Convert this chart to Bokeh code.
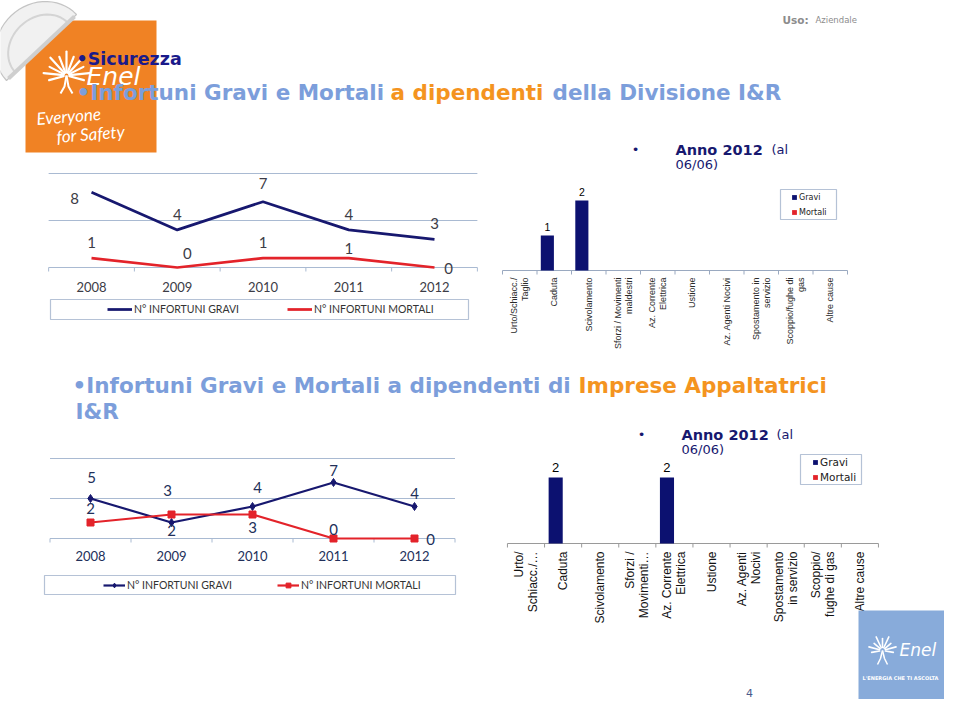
import math
from bokeh.plotting import figure
from bokeh.models import Range1d, ColumnDataSource, Legend, LegendItem
from bokeh.core.properties import value
from bokeh.transform import dodge
from bokeh.embed import file_html
from bokeh.resources import INLINE

# ---------------- data ----------------
years = ["2008", "2009", "2010", "2011", "2012"]
grid_ticks = [0, 5, 10]

div_gravi = [8, 4, 7, 4, 3]
div_mortali = [1, 0, 1, 1, 0]
app_gravi = [5, 2, 4, 7, 4]
app_mortali = [2, 3, 3, 0, 0]

div_causes = ["Urto/Schiacc./\nTaglio", "Caduta", "Scivolamento",
              "Sforzi / Movimenti\nmaldestri", "Az. Corrente\nElettrica", "Ustione",
              "Az. Agenti Nocivi", "Spostamento in\nservizio", "Scoppio/fughe di\ngas",
              "Altre cause"]
div_2012_gravi = [0, 1, 2, 0, 0, 0, 0, 0, 0, 0]
div_2012_mortali = [0, 0, 0, 0, 0, 0, 0, 0, 0, 0]

app_causes = ["Urto/\nSchiacc./…", "Caduta", "Scivolamento", "Sforzi /\nMovimenti…",
              "Az. Corrente\nElettrica", "Ustione", "Az. Agenti\nNocivi",
              "Spostamento\nin servizio", "Scoppio/\nfughe di gas", "Altre cause"]
app_2012_gravi = [0, 2, 0, 0, 2, 0, 0, 0, 0, 0]
app_2012_mortali = [0, 0, 0, 0, 0, 0, 0, 0, 0, 0]

# ---------------- styles ----------------
NAVY = "#17186f"
RED = "#e3232a"
BAR_NAVY = "#0c1170"
LBLUE = "#7c9edb"
ORANGE = "#f4941f"
GRID = "#a9bad2"
BOXC = "#b5c2d6"
TITLE_NAVY = "#1a1a8a"

X0, X1, Y0, Y1 = 0, 944, 699, 0   # slide pixel window shown by the page frame

p = figure(width=944, height=699, x_range=Range1d(X0, X1), y_range=Range1d(Y0, Y1),
           output_backend="svg", toolbar_location=None, min_border=0,
           x_axis_location=None, y_axis_location=None, outline_line_color=None,
           background_fill_color="white", border_fill_color="white")
p.grid.grid_line_color = None


def rng(v0, p0, v1, p1, pa, pb):
    s = (p1 - p0) / (v1 - v0)
    return Range1d(start=v0 + (pa - p0) / s, end=v0 + (pb - p0) / s)


def write(x, y, s, size, color, font="DejaVu Sans", style="normal", align="left", angle=0.0):
    p.text(x=[x], y=[y], text=[s], text_font=value(font), text_font_size=value(f"{size}px"),
           text_font_style=style, text_color=color, text_align=align,
           text_baseline="middle", angle=angle)


def rays(cx, cy, lengths, a0, a1, width):
    n = len(lengths)
    xs0, ys0, xs1, ys1 = [], [], [], []
    for i, L in enumerate(lengths):
        a = math.radians(a0 + (a1 - a0) * i / (n - 1))
        xs0.append(cx + 3 * math.cos(a)); ys0.append(cy - 3 * math.sin(a))
        xs1.append(cx + L * math.cos(a)); ys1.append(cy - L * math.sin(a))
    p.segment(x0=xs0, y0=ys0, x1=xs1, y1=ys1, line_color="white", line_width=width, line_cap="round")


# ---------------- top-left safety logo ----------------
p.quad(left=[25], right=[156], top=[20], bottom=[152], fill_color="#f08224", line_color=None)
# helmet
ax, ay, bx, by = 6, 80, 76, 14
mx, my = (ax + bx) / 2, (ay + by) / 2
L = math.hypot(bx - ax, by - ay) / 2
ux, uy = (bx - ax) / (2 * L), (by - ay) / (2 * L)
vx, vy = uy, -ux
if vx > 0:
    vx, vy = -vx, -vy
ts = [k * math.pi / 30 for k in range(31)]
hx = [mx + L * math.cos(t) * ux + 44 * math.sin(t) * vx for t in ts]
hy = [my + L * math.cos(t) * uy + 44 * math.sin(t) * vy for t in ts]
p.patch(hx, hy, fill_color="#f1f1f1", line_color="#c4c4c4", line_width=1.2)
rx = [mx + 0.75 * L * math.cos(t) * ux + 30 * math.sin(t) * vx for t in ts]
ry = [my + 0.75 * L * math.cos(t) * uy + 30 * math.sin(t) * vy for t in ts]
p.line(rx, ry, line_color="#d4d4d4", line_width=2)
p.line([ax + 2, bx - 2], [ay - 2, by + 2], line_color="#cfcfcf", line_width=4)
rays(66, 75, [18, 23, 19, 24, 20, 24, 20, 24, 19, 23, 18], -15, 195, 2.2)
p.line([66, 64, 60], [75, 86, 93], line_color="white", line_width=2)
p.line([66, 68, 72], [75, 86, 93], line_color="white", line_width=2)
write(86, 76, "Enel", 25, "white", style="italic")
write(36, 118, "Everyone", 17, "white", font="Lato", style="italic", angle=0.08)
write(56, 136, "for Safety", 17, "white", font="Lato", style="italic", angle=0.08)

# ---------------- header texts ----------------
write(782, 19, "Uso:", 10.5, "#8c8c8c", style="bold")
write(815, 19, "Aziendale", 8.5, "#8c8c8c")
write(76, 58, "•Sicurezza", 17.5, TITLE_NAVY, style="bold")
write(76, 92, "•Infortuni Gravi e Mortali", 21.5, LBLUE, style="bold")
write(390, 92, "a dipendenti", 21.5, ORANGE, style="bold")
write(552, 92, "della Divisione I&R", 21.5, LBLUE, style="bold")

write(72, 385, "•Infortuni Gravi e Mortali a dipendenti di", 21.5, LBLUE, style="bold")
write(578, 385, "Imprese Appaltatrici", 21.5, ORANGE, style="bold")
write(75, 411, "I&R", 21.5, LBLUE, style="bold")

for bx0, by0, dx_al in [(635, 149, 771), (641, 434, 776)]:
    write(bx0, by0, "•", 13, NAVY, align="center")
    write(bx0 + 40, by0, "Anno 2012", 14.5, NAVY, style="bold")
    write(dx_al, by0, "(al", 13, NAVY)
    write(bx0 + 40, by0 + 15, "06/06)", 13, NAVY)


# ---------------- line charts ----------------
def line_chart(key, xmap, ymap, gravi, mortali, g_dx, g_dy, m_dx, m_dy, year_dy,
               lw, markers, txt_color, box, leg_glyph_x, leg_glyph_w, leg_label_w, leg_cy):
    xr, yr = key + "x", key + "y"
    p.extra_x_ranges[xr] = rng(*xmap, X0, X1)
    p.extra_y_ranges[yr] = rng(*ymap, Y0, Y1)
    kw = dict(x_range_name=xr, y_range_name=yr)
    upp = abs((ymap[2] - ymap[0]) / (ymap[3] - ymap[1]))
    n = len(years)
    idx = list(range(n))
    p.segment(x0=-0.5, x1=n - 0.5, y0=grid_ticks, y1=grid_ticks, line_color=GRID, line_width=1.2, **kw)
    bounds = [i - 0.5 for i in range(n + 1)]
    p.segment(x0=bounds, x1=bounds, y0=0, y1=-4 * upp, line_color=GRID, line_width=1, **kw)
    src = ColumnDataSource(dict(x=idx, g=gravi, m=mortali, year=years,
                                gt=[str(v) for v in gravi], mt=[str(v) for v in mortali],
                                gdx=g_dx, gdy=g_dy, mdx=m_dx, mdy=m_dy))
    rg = [p.line("x", "g", source=src, line_color=NAVY, line_width=lw, **kw)]
    rm = [p.line("x", "m", source=src, line_color=RED, line_width=lw, **kw)]
    if markers:
        rg.append(p.scatter("x", "g", source=src, marker="diamond", size=8, fill_color=NAVY, line_color=NAVY, **kw))
        rm.append(p.scatter("x", "m", source=src, marker="square", size=7, fill_color=RED, line_color=RED, **kw))
    common = dict(text_font=value("Lato"), text_color=txt_color, text_align="center", text_baseline="middle")
    p.text(x="x", y="g", text="gt", source=src, x_offset="gdx", y_offset="gdy", text_font_size=value("15px"), **common, **kw)
    p.text(x="x", y="m", text="mt", source=src, x_offset="mdx", y_offset="mdy", text_font_size=value("15px"), **common, **kw)
    p.text(x="x", y=0, text="year", source=src, y_offset=year_dy, text_font_size=value("13px"), **common, **kw)
    # legend
    p.quad(left=[box[0]], right=[box[1]], top=[box[2]], bottom=[box[3]], fill_color="white", line_color=BOXC, line_width=1.2)
    leg = Legend(items=[LegendItem(label="N° INFORTUNI GRAVI", renderers=rg),
                        LegendItem(label="N° INFORTUNI MORTALI", renderers=rm)],
                 orientation="horizontal", location=(leg_glyph_x - X0, Y0 - (leg_cy + 6)),
                 padding=0, margin=0, spacing=0, glyph_width=leg_glyph_w, glyph_height=12,
                 label_standoff=2, label_width=leg_label_w, label_height=12,
                 label_text_font="Lato", label_text_font_size="10.5px", label_text_color="#333333",
                 border_line_color=None, background_fill_alpha=0)
    p.add_layout(leg)


line_chart("l1", (0, 91, 4, 434), (0, 267, 10, 173), div_gravi, div_mortali,
           [-17, 0, 0, 0, 0], [6, -15, -18, -15, -16], [0, 10, 0, 0, 14], [-16, -14, -16, -10, 1],
           19, 2.75, False, "#3c3c46", (50, 468, 299, 319), 107, 25, 153, 309)
line_chart("l2", (0, 90, 4, 414), (0, 538, 10, 458), app_gravi, app_mortali,
           [1, 0, 5, 0, 0], [-21, 8, -19, -12, -13], [0, -4, 0, 0, 16], [-14, -24, 13, -9, 1],
           17, 2.2, True, "#22305a", (44, 455, 575, 594), 103, 22, 150, 584.5)


# ---------------- bar charts ----------------
def bar_chart(key, xmap, ymap, causes, gravi, mortali, cat_size, cat_lh, cat_color, cat_gap,
              val_size, val_gap, axis_color, box, leg_glyph_x, leg_top, leg_size):
    xr, yr = key + "x", key + "y"
    p.extra_x_ranges[xr] = rng(*xmap, X0, X1)
    p.extra_y_ranges[yr] = rng(*ymap, Y0, Y1)
    kw = dict(x_range_name=xr, y_range_name=yr)
    upp = abs((ymap[2] - ymap[0]) / (ymap[3] - ymap[1]))
    n = len(causes)
    src = ColumnDataSource(dict(x=list(range(n)), gravi=gravi, mortali=mortali, cause=causes))
    bounds = [i - 0.5 for i in range(n + 1)]
    p.segment(x0=-0.5, y0=0, x1=n - 0.5, y1=0, line_color=axis_color, line_width=1.2, **kw)
    p.segment(x0=bounds, y0=0, x1=bounds, y1=-4 * upp, line_color=axis_color, line_width=1, **kw)
    rg = p.vbar(x=dodge("x", -0.2), top="gravi", width=0.38, source=src,
                fill_color=BAR_NAVY, line_color=None, **kw)
    rm = p.vbar(x=dodge("x", 0.2), top="mortali", width=0.38, source=src,
                fill_color=RED, line_color=None, **kw)
    nz = [i for i, v in enumerate(gravi) if v]
    vsrc = ColumnDataSource(dict(x=nz, v=[gravi[i] for i in nz], t=[str(gravi[i]) for i in nz]))
    p.text(x=dodge("x", -0.2), y="v", text="t", source=vsrc, y_offset=-val_gap,
           text_font=value("Liberation Sans"), text_font_size=value(f"{val_size}px"),
           text_color="black", text_align="center", text_baseline="middle", **kw)
    p.text(x="x", y=0, text="cause", source=src, angle=math.pi / 2, y_offset=cat_gap,
           text_font=value("Liberation Sans"), text_font_size=value(f"{cat_size}px"),
           text_line_height=cat_lh, text_color=cat_color, text_align="right",
           text_baseline="middle", **kw)
    p.quad(left=[box[0]], right=[box[1]], top=[box[2]], bottom=[box[3]], fill_color="white", line_color=BOXC, line_width=1.2)
    leg = Legend(items=[LegendItem(label="Gravi", renderers=[rg]), LegendItem(label="Mortali", renderers=[rm])],
                 orientation="vertical", location=(leg_glyph_x - X0, Y0 - (leg_top + 30)),
                 padding=0, margin=0, spacing=0, glyph_width=6, glyph_height=6,
                 label_standoff=2, label_height=15, label_text_font="DejaVu Sans",
                 label_text_font_size=f"{leg_size}px", label_text_color="#222222",
                 border_line_color=None, background_fill_alpha=0)
    p.add_layout(leg)


bar_chart("b1", (0, 519.25, 9, 829.75), (0, 270, 2, 200), div_causes, div_2012_gravi, div_2012_mortali,
          9, 1.1, "#2a2a2a", 7, 10.5, 9, "#9aa9c0", (780, 836, 189, 219), 791, 189.5, 8)
bar_chart("b2", (0, 525.5, 9, 859.4), (0, 543, 2, 477), app_causes, app_2012_gravi, app_2012_mortali,
          12, 1.0, "#111111", 8, 13, 10, "#9a9a9a", (800, 861, 454, 484), 812, 454.5, 10.5)

# ---------------- bottom-right logo & page number ----------------
p.quad(left=[858], right=[944], top=[610], bottom=[699], fill_color="#88abda", line_color=None)
rays(882, 650, [11, 14, 11, 15, 12, 15, 11, 14, 11], -10, 190, 1.6)
p.line([882, 880, 877], [650, 658, 664], line_color="white", line_width=1.5)
p.line([882, 884, 887], [650, 658, 664], line_color="white", line_width=1.5)
write(899, 649, "Enel", 17, "white", style="italic")
write(900, 677, "L'ENERGIA CHE TI ASCOLTA", 5, "white", style="bold", align="center")
write(749, 692, "4", 11, "#4b5b8b", align="center")

open("out.html", "w").write(file_html(p, INLINE))
